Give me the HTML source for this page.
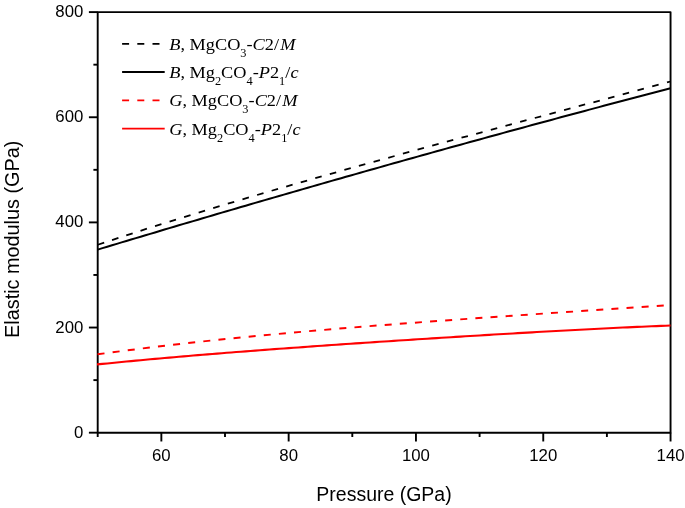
<!DOCTYPE html>
<html><head><meta charset="utf-8"><title>Elastic modulus</title>
<style>
html,body{margin:0;padding:0;background:#fff;}
svg{display:block;will-change:transform;}
text{fill:#000;}
.tk{font-family:"Liberation Sans",sans-serif;font-size:16.8px;}
.al{font-family:"Liberation Sans",sans-serif;font-size:20px;}
.lg{font-family:"Liberation Serif",serif;font-size:17.5px;}
.i{font-style:italic;}
.sub{font-size:11.8px;}
</style></head><body>
<svg width="685" height="508" viewBox="0 0 685 508">
<rect width="685" height="508" fill="#fff"/>
<rect x="97.7" y="12.1" width="572.8499999999999" height="420.58" fill="none" stroke="#000" stroke-width="1.9" stroke-linejoin="round"/>
<line x1="97.70" y1="432.68" x2="97.70" y2="436.98" stroke="#000" stroke-width="1.9"/>
<line x1="161.35" y1="432.68" x2="161.35" y2="441.48" stroke="#000" stroke-width="1.9"/>
<text x="161.35" y="460.5" text-anchor="middle" class="tk">60</text>
<line x1="225.00" y1="432.68" x2="225.00" y2="436.98" stroke="#000" stroke-width="1.9"/>
<line x1="288.65" y1="432.68" x2="288.65" y2="441.48" stroke="#000" stroke-width="1.9"/>
<text x="288.65" y="460.5" text-anchor="middle" class="tk">80</text>
<line x1="352.30" y1="432.68" x2="352.30" y2="436.98" stroke="#000" stroke-width="1.9"/>
<line x1="415.95" y1="432.68" x2="415.95" y2="441.48" stroke="#000" stroke-width="1.9"/>
<text x="415.95" y="460.5" text-anchor="middle" class="tk">100</text>
<line x1="479.60" y1="432.68" x2="479.60" y2="436.98" stroke="#000" stroke-width="1.9"/>
<line x1="543.25" y1="432.68" x2="543.25" y2="441.48" stroke="#000" stroke-width="1.9"/>
<text x="543.25" y="460.5" text-anchor="middle" class="tk">120</text>
<line x1="606.90" y1="432.68" x2="606.90" y2="436.98" stroke="#000" stroke-width="1.9"/>
<line x1="670.55" y1="432.68" x2="670.55" y2="441.48" stroke="#000" stroke-width="1.9"/>
<text x="670.55" y="460.5" text-anchor="middle" class="tk">140</text>
<line x1="97.7" y1="432.68" x2="88.9" y2="432.68" stroke="#000" stroke-width="1.9"/>
<text x="83.3" y="437.68" text-anchor="end" class="tk">0</text>
<line x1="97.7" y1="380.11" x2="93.4" y2="380.11" stroke="#000" stroke-width="1.9"/>
<line x1="97.7" y1="327.54" x2="88.9" y2="327.54" stroke="#000" stroke-width="1.9"/>
<text x="83.3" y="332.54" text-anchor="end" class="tk">200</text>
<line x1="97.7" y1="274.96" x2="93.4" y2="274.96" stroke="#000" stroke-width="1.9"/>
<line x1="97.7" y1="222.39" x2="88.9" y2="222.39" stroke="#000" stroke-width="1.9"/>
<text x="83.3" y="227.39" text-anchor="end" class="tk">400</text>
<line x1="97.7" y1="169.82" x2="93.4" y2="169.82" stroke="#000" stroke-width="1.9"/>
<line x1="97.7" y1="117.25" x2="88.9" y2="117.25" stroke="#000" stroke-width="1.9"/>
<text x="83.3" y="122.25" text-anchor="end" class="tk">600</text>
<line x1="97.7" y1="64.67" x2="93.4" y2="64.67" stroke="#000" stroke-width="1.9"/>
<line x1="97.7" y1="12.10" x2="88.9" y2="12.10" stroke="#000" stroke-width="1.9"/>
<text x="83.3" y="17.10" text-anchor="end" class="tk">800</text>
<path d="M97.80 244.77 L104.20 242.63 M112.03 240.04 L118.43 237.94 M126.27 235.38 L132.67 233.30 M140.50 230.78 L146.90 228.73 M155.04 226.14 L161.44 224.11 M169.58 221.55 L175.98 219.55 M184.12 217.02 L190.52 215.04 M198.66 212.54 L205.06 210.59 M213.20 208.11 L219.60 206.18 M227.83 203.70 L234.23 201.79 M242.47 199.34 L248.87 197.44 M257.10 195.01 L263.50 193.14 M271.64 190.76 L278.04 188.90 M286.19 186.54 L292.59 184.69 M300.73 182.35 L307.13 180.52 M315.27 178.20 L321.67 176.38 M329.81 174.07 L336.21 172.27 M344.36 169.98 L350.76 168.18 M358.90 165.91 L365.30 164.12 M373.57 161.82 L379.97 160.05 M388.23 157.77 L394.63 156.00 M402.90 153.73 L409.30 151.97 M417.55 149.71 L423.95 147.96 M432.21 145.71 L438.61 143.96 M446.86 141.72 L453.26 139.98 M461.51 137.74 L467.91 136.01 M476.17 133.78 L482.57 132.05 M490.82 129.83 L497.22 128.10 M505.47 125.88 L511.87 124.16 M520.13 121.94 L526.53 120.22 M534.78 118.00 L541.18 116.28 M549.43 114.07 L555.83 112.35 M564.09 110.14 L570.49 108.42 M578.74 106.20 L585.14 104.49 M593.39 102.27 L599.79 100.55 M608.05 98.34 L614.45 96.62 M622.70 94.40 L629.10 92.68 M637.47 90.42 L643.87 88.70 M652.23 86.44 L658.63 84.72 M667.00 82.46 L670.55 81.50" fill="none" stroke="#000" stroke-width="1.8"/>
<path d="M97.70 249.60 L102.47 248.16 L107.25 246.72 L112.02 245.28 L116.80 243.85 L121.57 242.41 L126.34 240.98 L131.12 239.55 L135.89 238.12 L140.66 236.69 L145.44 235.26 L150.21 233.84 L154.99 232.42 L159.76 230.99 L164.53 229.57 L169.31 228.16 L174.08 226.74 L178.85 225.32 L183.63 223.91 L188.40 222.50 L193.17 221.09 L197.95 219.68 L202.72 218.27 L207.50 216.87 L212.27 215.46 L217.04 214.06 L221.82 212.66 L226.59 211.26 L231.37 209.86 L236.14 208.47 L240.91 207.07 L245.69 205.68 L250.46 204.29 L255.23 202.90 L260.01 201.51 L264.78 200.13 L269.55 198.74 L274.33 197.36 L279.10 195.98 L283.88 194.60 L288.65 193.22 L293.42 191.85 L298.20 190.47 L302.97 189.10 L307.74 187.73 L312.52 186.36 L317.29 184.99 L322.07 183.62 L326.84 182.26 L331.61 180.89 L336.39 179.53 L341.16 178.17 L345.93 176.81 L350.71 175.45 L355.48 174.10 L360.26 172.75 L365.03 171.39 L369.80 170.04 L374.58 168.69 L379.35 167.35 L384.12 166.00 L388.90 164.66 L393.67 163.31 L398.45 161.97 L403.22 160.63 L407.99 159.30 L412.77 157.96 L417.54 156.62 L422.31 155.29 L427.09 153.96 L431.86 152.63 L436.64 151.30 L441.41 149.98 L446.18 148.65 L450.96 147.33 L455.73 146.01 L460.50 144.69 L465.28 143.37 L470.05 142.05 L474.83 140.74 L479.60 139.42 L484.37 138.11 L489.15 136.80 L493.92 135.49 L498.69 134.18 L503.47 132.88 L508.24 131.57 L513.02 130.27 L517.79 128.97 L522.56 127.67 L527.34 126.37 L532.11 125.08 L536.88 123.78 L541.66 122.49 L546.43 121.20 L551.21 119.91 L555.98 118.62 L560.75 117.34 L565.53 116.05 L570.30 114.77 L575.07 113.49 L579.85 112.21 L584.62 110.93 L589.40 109.65 L594.17 108.38 L598.94 107.11 L603.72 105.83 L608.49 104.56 L613.26 103.30 L618.04 102.03 L622.81 100.76 L627.59 99.50 L632.36 98.24 L637.13 96.98 L641.91 95.72 L646.68 94.46 L651.45 93.21 L656.23 91.95 L661.00 90.70 L665.78 89.45 L670.55 88.20" fill="none" stroke="#000" stroke-width="2.0"/>
<path d="M97.50 354.33 L104.50 353.37 M112.61 352.28 L119.61 351.35 M127.73 350.30 L134.73 349.41 M142.84 348.39 L149.84 347.53 M157.96 346.55 L164.96 345.72 M173.07 344.77 L180.07 343.97 M188.19 343.06 L195.19 342.28 M203.31 341.40 L210.31 340.65 M218.42 339.79 L225.42 339.07 M233.53 338.24 L240.53 337.54 M248.65 336.74 L255.65 336.05 M263.76 335.28 L270.76 334.62 M278.88 333.86 L285.88 333.22 M294.00 332.49 L301.00 331.86 M309.11 331.15 L316.11 330.55 M324.23 329.85 L331.23 329.26 M339.34 328.58 L346.34 328.01 M354.45 327.35 L361.45 326.78 M369.57 326.14 L376.57 325.59 M384.69 324.96 L391.69 324.42 M399.80 323.80 L406.80 323.27 M414.92 322.66 L421.92 322.14 M430.03 321.55 L437.03 321.03 M445.14 320.45 L452.14 319.94 M460.26 319.36 L467.26 318.87 M475.38 318.29 L482.38 317.80 M490.49 317.24 L497.49 316.75 M505.61 316.19 L512.61 315.71 M520.72 315.15 L527.72 314.67 M535.84 314.12 L542.84 313.65 M550.95 313.09 L557.95 312.62 M566.07 312.07 L573.07 311.60 M581.18 311.05 L588.18 310.58 M596.30 310.03 L603.30 309.56 M611.41 309.01 L618.41 308.54 M626.52 307.99 L633.52 307.52 M641.64 306.97 L648.64 306.49 M656.75 305.94 L663.75 305.46" fill="none" stroke="#f00" stroke-width="1.95"/>
<path d="M97.00 364.40 L102.47 363.91 L107.25 363.43 L112.02 362.95 L116.80 362.48 L121.57 362.01 L126.34 361.55 L131.12 361.09 L135.89 360.64 L140.66 360.19 L145.44 359.74 L150.21 359.31 L154.99 358.87 L159.76 358.44 L164.53 358.02 L169.31 357.60 L174.08 357.18 L178.85 356.77 L183.63 356.36 L188.40 355.95 L193.17 355.55 L197.95 355.15 L202.72 354.75 L207.50 354.36 L212.27 353.97 L217.04 353.59 L221.82 353.20 L226.59 352.82 L231.37 352.45 L236.14 352.07 L240.91 351.70 L245.69 351.33 L250.46 350.96 L255.23 350.60 L260.01 350.24 L264.78 349.88 L269.55 349.52 L274.33 349.17 L279.10 348.82 L283.88 348.46 L288.65 348.12 L293.42 347.77 L298.20 347.43 L302.97 347.08 L307.74 346.74 L312.52 346.40 L317.29 346.06 L322.07 345.73 L326.84 345.39 L331.61 345.06 L336.39 344.73 L341.16 344.40 L345.93 344.07 L350.71 343.75 L355.48 343.42 L360.26 343.10 L365.03 342.78 L369.80 342.46 L374.58 342.14 L379.35 341.82 L384.12 341.50 L388.90 341.18 L393.67 340.87 L398.45 340.56 L403.22 340.24 L407.99 339.93 L412.77 339.62 L417.54 339.32 L422.31 339.01 L427.09 338.70 L431.86 338.40 L436.64 338.10 L441.41 337.79 L446.18 337.49 L450.96 337.19 L455.73 336.90 L460.50 336.60 L465.28 336.30 L470.05 336.01 L474.83 335.72 L479.60 335.43 L484.37 335.14 L489.15 334.85 L493.92 334.56 L498.69 334.28 L503.47 333.99 L508.24 333.71 L513.02 333.43 L517.79 333.15 L522.56 332.88 L527.34 332.60 L532.11 332.33 L536.88 332.06 L541.66 331.79 L546.43 331.52 L551.21 331.25 L555.98 330.99 L560.75 330.73 L565.53 330.47 L570.30 330.21 L575.07 329.96 L579.85 329.71 L584.62 329.46 L589.40 329.21 L594.17 328.97 L598.94 328.73 L603.72 328.49 L608.49 328.25 L613.26 328.02 L618.04 327.79 L622.81 327.57 L627.59 327.34 L632.36 327.12 L637.13 326.91 L641.91 326.69 L646.68 326.49 L651.45 326.28 L656.23 326.08 L661.00 325.88 L665.78 325.69 L670.55 325.50" fill="none" stroke="#f00" stroke-width="2.1"/>
<line x1="122.1" y1="43.8" x2="164.7" y2="43.8" stroke="#000" stroke-width="1.8" stroke-dasharray="7 8.2"/>
<text transform="translate(169.2 49.7) scale(1.046 1)" class="lg"><tspan class="i">B</tspan>, MgCO<tspan class="sub" dy="7.2">3</tspan><tspan dy="-7.2">-</tspan><tspan class="i">C</tspan>2/<tspan class="i" dx="1.1">M</tspan></text>
<line x1="122.1" y1="72.0" x2="164.7" y2="72.0" stroke="#000" stroke-width="1.8"/>
<text transform="translate(169.2 77.9) scale(1.046 1)" class="lg"><tspan class="i">B</tspan>, Mg<tspan class="sub" dy="7.2">2</tspan><tspan dy="-7.2">CO</tspan><tspan class="sub" dy="7.2">4</tspan><tspan dy="-7.2">-</tspan><tspan class="i">P</tspan>2<tspan class="sub" dy="7.2">1</tspan><tspan dy="-7.2">/</tspan><tspan class="i">c</tspan></text>
<line x1="122.1" y1="100.3" x2="164.7" y2="100.3" stroke="#f00" stroke-width="1.8" stroke-dasharray="7 8.2"/>
<text transform="translate(169.2 106.2) scale(1.046 1)" class="lg"><tspan class="i">G</tspan>, MgCO<tspan class="sub" dy="7.2">3</tspan><tspan dy="-7.2">-</tspan><tspan class="i">C</tspan>2/<tspan class="i" dx="1.1">M</tspan></text>
<line x1="122.1" y1="128.6" x2="164.7" y2="128.6" stroke="#f00" stroke-width="1.8"/>
<text transform="translate(169.2 134.5) scale(1.046 1)" class="lg"><tspan class="i">G</tspan>, Mg<tspan class="sub" dy="7.2">2</tspan><tspan dy="-7.2">CO</tspan><tspan class="sub" dy="7.2">4</tspan><tspan dy="-7.2">-</tspan><tspan class="i">P</tspan>2<tspan class="sub" dy="7.2">1</tspan><tspan dy="-7.2">/</tspan><tspan class="i">c</tspan></text>
<text x="384" y="500.5" text-anchor="middle" class="al" textLength="135.3" lengthAdjust="spacingAndGlyphs">Pressure (GPa)</text>
<text transform="translate(18.6 239.3) rotate(-90)" text-anchor="middle" class="al" textLength="197.2" lengthAdjust="spacingAndGlyphs">Elastic modulus (GPa)</text>
</svg>
</body></html>
